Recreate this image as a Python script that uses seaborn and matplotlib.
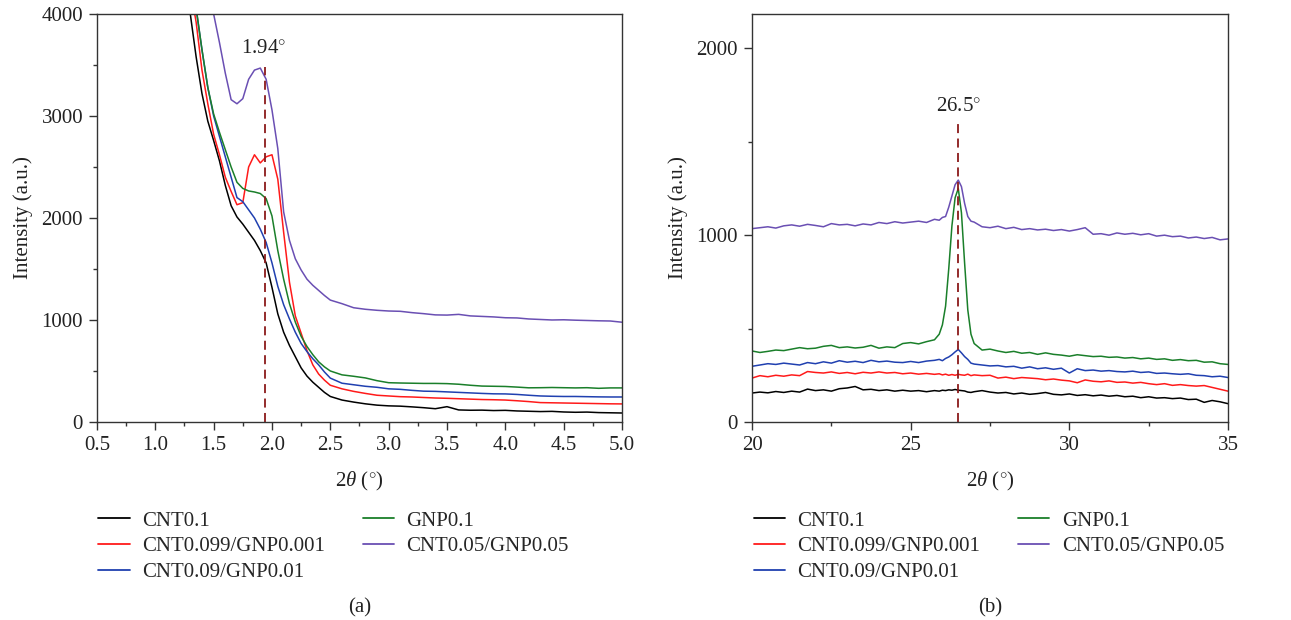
import numpy as np
import pandas as pd
import matplotlib
matplotlib.use("Agg")
import matplotlib.pyplot as plt
from matplotlib.ticker import MultipleLocator
import seaborn as sns

sns.set_theme(style="white")
plt.rcParams['font.family'] = ['Liberation Serif', 'DejaVu Serif']
plt.rcParams['mathtext.fontset'] = 'custom'
plt.rcParams['mathtext.it'] = 'Liberation Serif:italic'
plt.rcParams['mathtext.rm'] = 'Liberation Serif'

labels = ["CNT0.1", "CNT0.099/GNP0.001", "CNT0.09/GNP0.01", "GNP0.1", "CNT0.05/GNP0.05"]
colors = ["#000000", "#ff1a1a", "#2040b0", "#1a7f2a", "#6a4fb3"]

# ---- panel (a) small angle ----
x_a = [1.20, 1.25, 1.30, 1.35, 1.40, 1.45, 1.50, 1.55, 1.60, 1.65, 1.70, 1.75, 1.80, 1.85,
       1.90, 1.95, 2.00, 2.05, 2.10, 2.15, 2.20, 2.25, 2.30, 2.35, 2.40, 2.45, 2.50,
       2.60, 2.70, 2.80, 2.90, 3.00, 3.10, 3.20, 3.30, 3.40, 3.50, 3.60, 3.70, 3.80, 3.90,
       4.00, 4.10, 4.20, 4.30, 4.40, 4.50, 4.60, 4.70, 4.80, 4.90, 5.00]
a_cnt01 = [4900, 4450, 4000, 3580, 3220, 2950, 2760, 2560, 2320, 2120, 2010, 1940, 1860, 1780,
           1680, 1560, 1320, 1060, 880, 750, 640, 530, 450, 390, 340, 290, 250,
           215, 195, 178, 165, 158, 155, 148, 140, 130, 150, 118, 115, 116, 112,
           114, 108, 105, 102, 104, 98, 95, 97, 92, 90, 88]
a_cnt099 = [5200, 4700, 4250, 3920, 3450, 3120, 2820, 2620, 2400, 2260, 2130, 2150, 2500, 2620,
            2540, 2600, 2620, 2380, 1860, 1370, 1040, 870, 700, 560, 470, 410, 360,
            325, 300, 280, 262, 255, 248, 245, 240, 235, 232, 228, 224, 220, 218,
            215, 208, 200, 190, 188, 186, 184, 182, 180, 178, 177]
a_cnt09 = [5300, 4850, 4400, 4050, 3650, 3280, 3000, 2800, 2600, 2400, 2200, 2160, 2080, 2000,
           1890, 1760, 1560, 1330, 1150, 1010, 880, 770, 690, 620, 560, 490, 430,
           380, 365, 350, 340, 325, 320, 310, 302, 300, 295, 290, 285, 280, 276,
           275, 270, 262, 255, 252, 250, 250, 248, 246, 245, 245]
a_gnp01 = [5400, 4900, 4450, 4060, 3650, 3280, 3020, 2840, 2670, 2500, 2350, 2290, 2265, 2255,
           2240, 2190, 2020, 1680, 1400, 1160, 980, 840, 740, 660, 590, 540, 500,
           462, 448, 432, 405, 385, 382, 380, 378, 378, 376, 370, 360, 352, 350,
           348, 342, 335, 336, 338, 336, 334, 336, 330, 334, 334]
a_cnt05 = [6000, 5600, 5200, 4850, 4550, 4250, 4000, 3720, 3420, 3160, 3120, 3170, 3360, 3450,
           3470, 3360, 3060, 2680, 2060, 1780, 1600, 1490, 1400, 1340, 1290, 1240, 1195,
           1160, 1120, 1105, 1095, 1088, 1085, 1072, 1062, 1050, 1048, 1055, 1040, 1035, 1030,
           1022, 1020, 1010, 1005, 1000, 1002, 998, 995, 992, 990, 978]
peak_a = 1.94

# ---- panel (b) wide angle ----
x_b = [20.0, 20.25, 20.5, 20.75, 21.0, 21.25, 21.5, 21.75, 22.0, 22.25, 22.5, 22.75,
       23.0, 23.25, 23.5, 23.75, 24.0, 24.25, 24.5, 24.75, 25.0, 25.25, 25.5, 25.75,
       25.9, 26.0, 26.1, 26.2, 26.3, 26.4, 26.5, 26.6, 26.7, 26.8, 26.9, 27.0,
       27.25, 27.5, 27.75, 28.0, 28.25, 28.5, 28.75, 29.0, 29.25, 29.5, 29.75, 30.0,
       30.25, 30.5, 30.75, 31.0, 31.25, 31.5, 31.75, 32.0, 32.25, 32.5, 32.75, 33.0,
       33.25, 33.5, 33.75, 34.0, 34.25, 34.5, 34.75, 35.0]
b_cnt01 = [155, 160, 156, 163, 158, 165, 160, 176, 168, 172, 165, 178,
           182, 190, 172, 175, 168, 172, 165, 170, 165, 168, 162, 168,
           165, 170, 168, 172, 170, 174, 170, 168, 166, 160, 158, 162,
           168, 160, 155, 158, 150, 155, 148, 152, 158, 148, 145, 150,
           142, 146, 140, 144, 138, 142, 135, 138, 130, 135, 128, 130,
           125, 128, 120, 122, 105, 115, 108, 98]
b_cnt099 = [235, 248, 242, 250, 245, 252, 248, 270, 265, 262, 268, 260,
            265, 258, 266, 262, 268, 262, 265, 258, 262, 256, 260, 255,
            258, 252, 256, 250, 254, 250, 255, 252, 250, 256, 248, 252,
            248, 250, 235, 240, 232, 238, 235, 232, 226, 230, 224, 220,
            210, 225, 218, 215, 220, 212, 214, 208, 212, 205, 200, 205,
            196, 200, 195, 192, 195, 185, 175, 165]
b_cnt09 = [298, 305, 312, 308, 315, 310, 305, 318, 312, 322, 315, 328,
           320, 325, 318, 330, 322, 326, 320, 318, 324, 318, 326, 330,
           335, 328, 340, 348, 360, 375, 388, 370, 350, 335, 315, 310,
           305, 300, 302, 295, 298, 288, 295, 285, 290, 282, 288, 262,
           285, 275, 278, 272, 275, 270, 268, 272, 265, 268, 260, 262,
           258, 255, 258, 250, 248, 242, 245, 238]
b_gnp01 = [380, 372, 378, 385, 382, 390, 398, 392, 395, 405, 410, 398,
           402, 396, 400, 410, 395, 402, 398, 420, 425, 418, 430, 440,
           470, 520, 620, 820, 1050, 1200, 1250, 1120, 850, 600, 470, 420,
           385, 390, 380, 372, 378, 368, 372, 362, 370, 362, 358, 352,
           360, 355, 350, 352, 346, 348, 342, 345, 338, 342, 335, 338,
           330, 334, 328, 330, 320, 322, 312, 308]
b_cnt05 = [1035, 1040, 1045, 1038, 1050, 1055, 1048, 1058, 1052, 1045, 1062, 1055,
           1058, 1050, 1060, 1055, 1068, 1062, 1072, 1065, 1070, 1075, 1068, 1085,
           1080, 1095, 1100, 1150, 1210, 1270, 1295, 1260, 1170, 1100, 1075, 1070,
           1045, 1040, 1048, 1035, 1042, 1030, 1035, 1028, 1032, 1025, 1030, 1022,
           1030, 1040, 1005, 1008, 1000, 1012, 1005, 1010, 1002, 1008, 995, 1000,
           992, 995, 985, 990, 982, 988, 975, 980]
peak_b = 26.5


def make_df(x, series):
    frames = []
    for lab, vals in zip(labels, series):
        frames.append(pd.DataFrame({"x": x, "y": vals, "sample": lab}))
    return pd.concat(frames, ignore_index=True)


df_a = make_df(x_a, [a_cnt01, a_cnt099, a_cnt09, a_gnp01, a_cnt05])
df_b = make_df(x_b, [b_cnt01, b_cnt099, b_cnt09, b_gnp01, b_cnt05])
palette = dict(zip(labels, colors))

fig = plt.figure(figsize=(12.91, 6.20), dpi=100)
ax_a = fig.add_axes([0.0751, 0.3194, 0.4067, 0.6580])
ax_b = fig.add_axes([0.5825, 0.3194, 0.3687, 0.6580])

fs = 15


def style(ax):
    for s in ax.spines.values():
        s.set_visible(True)
        s.set_color("#333333")
        s.set_linewidth(1.0)
    ax.tick_params(axis="both", which="major", direction="out", length=6, width=1,
                   color="#333333", labelsize=fs, left=True, bottom=True,
                   top=False, right=False, labelcolor="#222222", pad=4)
    ax.tick_params(axis="both", which="minor", direction="out", length=3, width=1,
                   color="#333333", left=True, bottom=True, top=False, right=False)
    ax.grid(False)


sns.lineplot(data=df_a, x="x", y="y", hue="sample", palette=palette, ax=ax_a,
             linewidth=1.1, sort=False, estimator=None)
ax_a.set_xlim(0.5, 5.0)
ax_a.set_ylim(0, 4000)
ax_a.xaxis.set_major_locator(MultipleLocator(0.5))
ax_a.xaxis.set_minor_locator(MultipleLocator(0.25))
ax_a.yaxis.set_major_locator(MultipleLocator(1000))
ax_a.yaxis.set_minor_locator(MultipleLocator(500))
ax_a.xaxis.set_major_formatter(matplotlib.ticker.FormatStrFormatter("%.1f"))
ax_a.axvline(peak_a, ymin=0, ymax=3480 / 4000, color="#8b1a1a", ls=(0, (5, 3)), lw=1.3)
ax_a.text(peak_a - 0.01, 3570, "1.94$^{\\circ}$", ha="center", va="bottom", fontsize=fs,
          color="#222222")

sns.lineplot(data=df_b, x="x", y="y", hue="sample", palette=palette, ax=ax_b,
             linewidth=1.1, sort=False, estimator=None)
ax_b.set_xlim(20, 35)
ax_b.set_ylim(0, 2184)
ax_b.xaxis.set_major_locator(MultipleLocator(5))
ax_b.xaxis.set_minor_locator(MultipleLocator(2.5))
ax_b.yaxis.set_major_locator(MultipleLocator(1000))
ax_b.yaxis.set_minor_locator(MultipleLocator(500))
ax_b.axvline(peak_b, ymin=0, ymax=1620 / 2184, color="#8b1a1a", ls=(0, (5, 3)), lw=1.3)
ax_b.text(peak_b, 1640, "26.5$^{\\circ}$", ha="center", va="bottom", fontsize=fs,
          color="#222222")

for ax, tag in [(ax_a, "(a)"), (ax_b, "(b)")]:
    style(ax)
    ax.set_xlabel("2$\\it{\\theta}$ ($^{\\circ}$)", fontsize=fs, color="#222222", labelpad=11)
    ax.set_ylabel("Intensity (a.u.)", fontsize=fs, color="#222222", labelpad=6)
    ax.get_legend().remove()
    handles = [matplotlib.lines.Line2D([], [], color=c, lw=1.3) for c in colors]
    ax.legend(handles, labels, loc="upper left", bbox_to_anchor=(-0.005, -0.208), ncol=2,
              frameon=False, fontsize=fs, handlelength=1.5, handletextpad=0.6,
              columnspacing=1.8, labelspacing=0.3, borderaxespad=0, borderpad=0.2)
    ax.text(0.5, -0.455, tag, transform=ax.transAxes, ha="center", va="center",
            fontsize=fs, color="#222222")

fig.savefig("out.png", dpi=100, facecolor="white")
